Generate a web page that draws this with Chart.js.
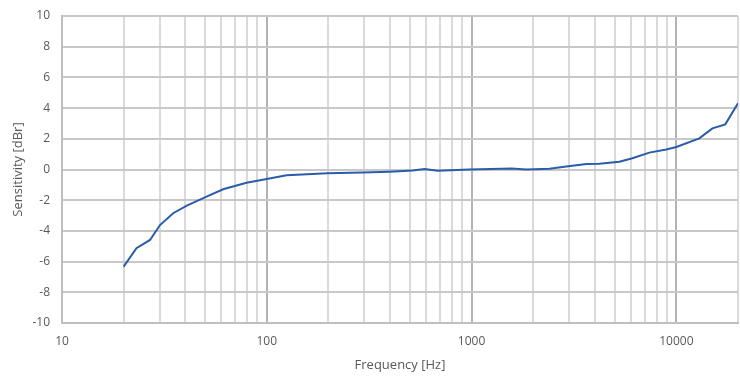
<!DOCTYPE html>
<html>
<head>
<meta charset="utf-8">
<script src="https://cdn.jsdelivr.net/npm/chart.js@4/dist/chart.umd.min.js"></script>
<style>
html,body{margin:0;padding:0;background:#fff;}
#wrap{width:740px;height:377px;position:relative;}
</style>
</head>
<body>
<div id="wrap"><canvas id="c" width="740" height="377"></canvas></div>
<script>
const frequencies = [20, 23.1, 26.9, 30.1, 34.9, 40.7, 50.8, 61.2, 79.6, 100, 111, 125, 198, 293, 398, 515, 590, 683, 978, 1567, 1855, 2400, 2900, 3640, 4210, 5270, 6100, 7380, 8930, 10000, 12940, 15000, 17340, 20000];
const sensitivity = [-6.33, -5.13, -4.59, -3.62, -2.85, -2.35, -1.77, -1.29, -0.86, -0.62, -0.51, -0.38, -0.25, -0.2, -0.14, -0.06, 0.03, -0.08, 0, 0.07, 0, 0.05, 0.2, 0.36, 0.37, 0.5, 0.73, 1.1, 1.3, 1.47, 2.03, 2.68, 2.94, 4.31];
const xTickLabels = [10, 100, 1000, 10000];
const yTicks = [-10, -8, -6, -4, -2, 0, 2, 4, 6, 8, 10];

const points = frequencies.map((f, i) => ({x: f, y: sensitivity[i]}));
const font = {family: "'Open Sans', 'Noto Sans', sans-serif", size: 12};

new Chart(document.getElementById('c'), {
  type: 'line',
  data: {
    datasets: [{
      data: points,
      borderColor: '#2a5caa',
      borderWidth: 2,
      pointRadius: 0,
      tension: 0,
      fill: false
    }]
  },
  options: {
    responsive: false,
    animation: false,
    devicePixelRatio: 1,
    layout: {padding: {top: 16, right: 2, left: 0, bottom: 0}},
    plugins: {legend: {display: false}, tooltip: {enabled: false}},
    scales: {
      x: {
        type: 'logarithmic',
        min: 10,
        max: 20000,
        afterBuildTicks: (axis) => {
          const t = [];
          for (let d = 10; d <= 10000; d *= 10) {
            for (let m = 1; m <= 9; m++) {
              const v = d * m;
              if (v <= 20000) t.push({value: v});
            }
          }
          axis.ticks = t;
        },
        afterFit: (axis) => { axis.height = 54; axis.paddingRight = 0; axis.paddingLeft = 0; },
        ticks: {
          autoSkip: false,
          maxRotation: 0,
          color: '#595959',
          font: font,
          padding: 11,
          callback: (v) => xTickLabels.includes(v) ? String(v) : ''
        },
        grid: {
          drawTicks: false,
          lineWidth: 2,
          color: (ctx) => {
            const v = ctx.tick && ctx.tick.value;
            return xTickLabels.includes(v) ? '#b3b3b3' : '#dadada';
          }
        },
        border: {display: true, color: '#bfbfbf', width: 2},
        title: {display: true, text: 'Frequency [Hz]', color: '#595959', font: {family: font.family, size: 13}, padding: {top: 0, bottom: 4}}
      },
      y: {
        min: -10,
        max: 10,
        afterBuildTicks: (axis) => { axis.ticks = yTicks.map(v => ({value: v})); },
        afterFit: (axis) => { axis.width = 62; axis.paddingTop = 0; axis.paddingBottom = 0; },
        ticks: {color: '#595959', font: font, padding: 12},
        grid: {drawTicks: false, lineWidth: 2, color: '#c8c8c8'},
        border: {display: true, color: '#bfbfbf', width: 2},
        title: {display: true, text: 'Sensitivity [dBr]', color: '#595959', font: {family: font.family, size: 13}, padding: {top: 10, bottom: 4}}
      }
    }
  }
});
</script>
</body>
</html>
